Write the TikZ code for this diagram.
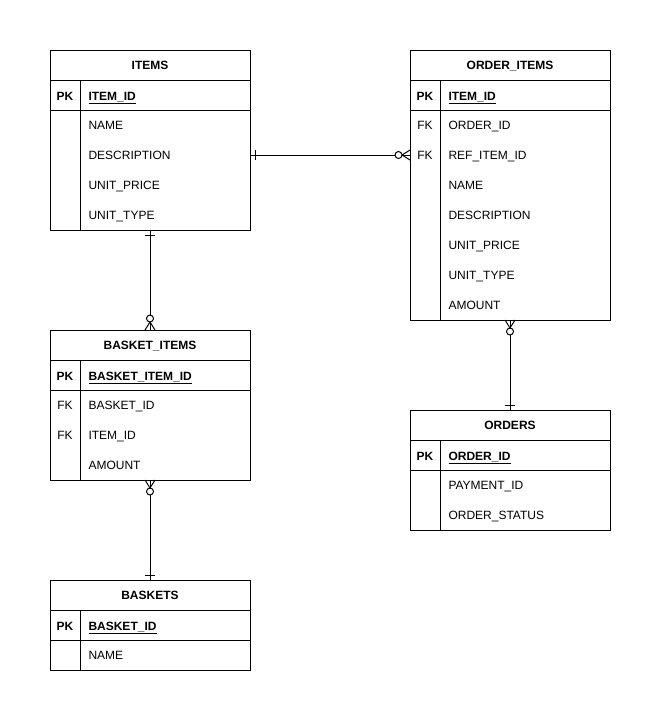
\documentclass[tikz,border=0pt]{standalone}
\usepackage{fontspec}
\setmainfont{Liberation Sans}
\usepackage{tikz}
\usetikzlibrary{positioning,calc}

\begin{document}
\begin{tikzpicture}[
    x=1pt, y=-1pt,
    font=\fontsize{12pt}{14pt}\selectfont,
    node distance=0pt,
    line width=1pt,
    enthead/.style={draw, anchor=north west, minimum width=200, minimum height=30, outer sep=0pt, inner sep=0pt, text height=8.7pt, text depth=0pt, font=\fontsize{12pt}{14pt}\selectfont\bfseries},
    pkrow/.style={draw, minimum width=200, minimum height=30, outer sep=0pt, inner sep=0pt},
    bodybox/.style={draw, minimum width=200, outer sep=0pt, inner sep=0pt},
    keytxt/.style={inner sep=0pt, text height=8.7pt, text depth=0pt},
    fieldtxt/.style={anchor=west, inner sep=0pt, text height=8.7pt, text depth=0pt},
    pktxt/.style={font=\fontsize{12pt}{14pt}\selectfont\bfseries},
    onemark/.pic={\draw[line width=1pt] (5,-5) -- (5,5);},
    zeromany/.pic={\draw[line width=1pt] (0,-5) -- (8,0) -- (0,5);
                   \draw[line width=1pt, fill=white] (11.5,0) circle[radius=3.5];}
]
\fill[white] (0,0) rectangle (661,721);
\useasboundingbox (0,0) rectangle (661,721);

% ITEMS
\node[enthead] (items) at (50,50) {ITEMS};
\node[pkrow, below=of items] (items-pk) {};
\node[bodybox, minimum height=120, below=of items-pk] (items-body) {};
\draw ($(items-pk.north west)+(30,0)$) -- ($(items-body.south west)+(30,0)$);
\node[keytxt, pktxt] at ($(items-pk.west)+(15,1.3)$) {PK};
\node[fieldtxt, pktxt] at ($(items-pk.west)+(38,1.3)$) {\underline{ITEM\_ID}};
\foreach \k/\f [count=\i] in {{}/NAME, {}/DESCRIPTION, {}/UNIT\_PRICE, {}/UNIT\_TYPE} {
    \node[keytxt] at ($(items-body.north west)+(15,15+30*\i-30)$) {\k};
    \node[fieldtxt] (items-\i) at ($(items-body.north west)+(38,15+30*\i-30)$) {\f};
}

% ORDER_ITEMS
\node[enthead] (orderitems) at (410,50) {ORDER\_ITEMS};
\node[pkrow, below=of orderitems] (orderitems-pk) {};
\node[bodybox, minimum height=210, below=of orderitems-pk] (orderitems-body) {};
\draw ($(orderitems-pk.north west)+(30,0)$) -- ($(orderitems-body.south west)+(30,0)$);
\node[keytxt, pktxt] at ($(orderitems-pk.west)+(15,1.3)$) {PK};
\node[fieldtxt, pktxt] at ($(orderitems-pk.west)+(38,1.3)$) {\underline{ITEM\_ID}};
\foreach \k/\f [count=\i] in {FK/ORDER\_ID, FK/REF\_ITEM\_ID, {}/NAME, {}/DESCRIPTION, {}/UNIT\_PRICE, {}/UNIT\_TYPE, {}/AMOUNT} {
    \node[keytxt] at ($(orderitems-body.north west)+(15,15+30*\i-30)$) {\k};
    \node[fieldtxt] (orderitems-\i) at ($(orderitems-body.north west)+(38,15+30*\i-30)$) {\f};
}

% BASKET_ITEMS
\node[enthead] (basketitems) at (50,330) {BASKET\_ITEMS};
\node[pkrow, below=of basketitems] (basketitems-pk) {};
\node[bodybox, minimum height=90, below=of basketitems-pk] (basketitems-body) {};
\draw ($(basketitems-pk.north west)+(30,0)$) -- ($(basketitems-body.south west)+(30,0)$);
\node[keytxt, pktxt] at ($(basketitems-pk.west)+(15,1.3)$) {PK};
\node[fieldtxt, pktxt] at ($(basketitems-pk.west)+(38,1.3)$) {\underline{BASKET\_ITEM\_ID}};
\foreach \k/\f [count=\i] in {FK/BASKET\_ID, FK/ITEM\_ID, {}/AMOUNT} {
    \node[keytxt] at ($(basketitems-body.north west)+(15,15+30*\i-30)$) {\k};
    \node[fieldtxt] (basketitems-\i) at ($(basketitems-body.north west)+(38,15+30*\i-30)$) {\f};
}

% ORDERS
\node[enthead] (orders) at (410,410) {ORDERS};
\node[pkrow, below=of orders] (orders-pk) {};
\node[bodybox, minimum height=60, below=of orders-pk] (orders-body) {};
\draw ($(orders-pk.north west)+(30,0)$) -- ($(orders-body.south west)+(30,0)$);
\node[keytxt, pktxt] at ($(orders-pk.west)+(15,1.3)$) {PK};
\node[fieldtxt, pktxt] at ($(orders-pk.west)+(38,1.3)$) {\underline{ORDER\_ID}};
\foreach \k/\f [count=\i] in {{}/PAYMENT\_ID, {}/ORDER\_STATUS} {
    \node[keytxt] at ($(orders-body.north west)+(15,15+30*\i-30)$) {\k};
    \node[fieldtxt] (orders-\i) at ($(orders-body.north west)+(38,15+30*\i-30)$) {\f};
}

% BASKETS
\node[enthead] (baskets) at (50,580) {BASKETS};
\node[pkrow, below=of baskets] (baskets-pk) {};
\node[bodybox, minimum height=30, below=of baskets-pk] (baskets-body) {};
\draw ($(baskets-pk.north west)+(30,0)$) -- ($(baskets-body.south west)+(30,0)$);
\node[keytxt, pktxt] at ($(baskets-pk.west)+(15,1.3)$) {PK};
\node[fieldtxt, pktxt] at ($(baskets-pk.west)+(38,1.3)$) {\underline{BASKET\_ID}};
\node[fieldtxt] (baskets-1) at ($(baskets-body.north west)+(38,15)$) {NAME};

% relations
\draw (items-body.east |- items-2) -- (orderitems-body.west |- orderitems-2);
\pic at (items-body.east |- items-2) {onemark};
\pic[rotate=180] at (orderitems-body.west |- orderitems-2) {zeromany};

\draw (items-body.south) -- (basketitems.north);
\pic[rotate=-90] at (items-body.south) {onemark};
\pic[rotate=90] at (basketitems.north) {zeromany};

\draw (orderitems-body.south) -- (orders.north);
\pic[rotate=-90] at (orderitems-body.south) {zeromany};
\pic[rotate=90] at (orders.north) {onemark};

\draw (basketitems-body.south) -- (baskets.north);
\pic[rotate=-90] at (basketitems-body.south) {zeromany};
\pic[rotate=90] at (baskets.north) {onemark};
\end{tikzpicture}
\end{document}
